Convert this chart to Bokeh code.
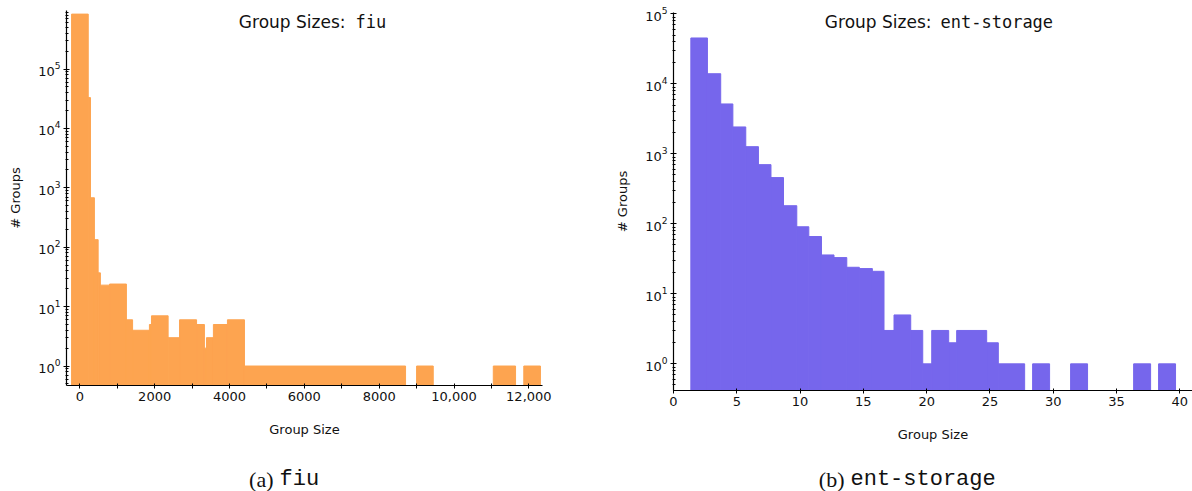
from bokeh.plotting import figure
from bokeh.models import Range1d, FixedTicker, LogTicker, Label
from bokeh.layouts import row, column
from bokeh.embed import file_html
from bokeh.resources import INLINE

# ---- data: fiu (left) ----
fiu_left = [-220, 225, 285, 390, 490, 550, 795, 1245, 1410, 1860, 1915, 2360,
            2665, 3120, 3330, 3385, 3570, 3945, 4400, 9000, 11050, 11865]
fiu_right = [225, 285, 390, 490, 550, 795, 1245, 1410, 1860, 1915, 2360, 2665,
             3120, 3330, 3385, 3570, 3945, 4400, 8705, 9445, 11645, 12310]
fiu_count = [840000, 33000, 680, 134, 37, 23, 24, 6, 4, 5, 7, 3,
             6, 5, 2, 3, 5, 6, 1, 1, 1, 1]
fiu_xticks = [0, 2000, 4000, 6000, 8000, 10000, 12000]
fiu_xminor = [1000, 3000, 5000, 7000, 9000, 11000]
fiu_xlabels = ["0", "2000", "4000", "6000", "8000", "10,000", "12,000"]

# ---- data: ent-storage (right) ----
ent_left = [1.37, 2.68, 3.73, 4.69, 5.71, 6.71, 7.70, 8.69, 9.74, 10.69, 11.69,
            12.68, 13.69, 14.68, 15.71, 16.63, 17.42, 18.74, 19.69, 20.40, 21.74,
            22.37, 24.74, 25.66, 28.37, 31.37, 36.35, 38.32]
ent_right = [2.68, 3.73, 4.69, 5.71, 6.71, 7.70, 8.69, 9.74, 10.69, 11.69, 12.68,
             13.69, 14.68, 15.71, 16.63, 17.42, 18.74, 19.69, 20.40, 21.74, 22.37,
             24.74, 25.66, 27.74, 29.71, 32.71, 37.69, 39.66]
ent_count = [45400, 14000, 5180, 2430, 1270, 703, 459, 182, 91, 66, 36,
             33, 24, 23, 21, 3, 5, 3, 1, 3, 2,
             3, 2, 1, 1, 1, 1, 1]
ent_xticks = [0, 5, 10, 15, 20, 25, 30, 35, 40]

FONT = "DejaVu Sans"
MONO = "DejaVu Sans Mono"
ORANGE = "#FDA450"
PURPLE = "#7666EC"


def style(p):
    p.grid.visible = False
    p.outline_line_color = None
    p.background_fill_color = "white"
    p.border_fill_color = "white"
    for ax in (p.xaxis[0], p.yaxis[0]):
        ax.axis_line_color = "black"
        ax.axis_line_width = 1.2
        ax.major_tick_line_color = "black"
        ax.minor_tick_line_color = "black"
        ax.major_label_text_font = FONT
        ax.major_label_text_font_size = "13px"
        ax.major_label_text_color = "#111111"
        ax.axis_label_text_font = FONT
        ax.axis_label_text_font_size = "13px"
        ax.axis_label_text_font_style = "normal"
        ax.axis_label_text_color = "#111111"
        ax.major_label_standoff = 3
    ax = p.xaxis[0]
    ax.major_tick_in = 2
    ax.major_tick_out = 3
    ax.minor_tick_in = 2
    ax.minor_tick_out = 3
    ax.axis_label = "Group Size"
    ax.axis_label_standoff = 18
    ay = p.yaxis[0]
    ay.major_tick_in = 3
    ay.major_tick_out = 3
    ay.minor_tick_in = 2
    ay.minor_tick_out = 1
    ay.axis_label = "# Groups"
    ay.axis_label_standoff = 12
    ay.ticker = LogTicker(num_minor_ticks=10)


def add_text(p, x, y, text, font, size, align):
    p.add_layout(Label(x=x, y=y, x_units="screen", y_units="screen", text=text,
                       text_font=font, text_font_size=size, text_align=align,
                       text_baseline="middle", text_color="#111111"))


def caption_fig():
    c = figure(width=596, height=40, title=None, x_range=Range1d(0, 596),
               y_range=Range1d(0, 40), x_axis_location=None, y_axis_location=None,
               output_backend="svg", toolbar_location=None, min_border=0)
    c.grid.visible = False
    c.outline_line_color = None
    return c


TOP_H = 451

# ---- left figure ----
p1 = figure(width=596, height=TOP_H, title=None,
            x_range=Range1d(-356, 12365), y_range=Range1d(0.47, 966000),
            y_axis_type="log", output_backend="svg", toolbar_location=None,
            min_border_left=66, min_border_right=54, min_border_top=10,
            min_border_bottom=TOP_H - 385)
p1.quad(left=fiu_left, right=fiu_right, top=fiu_count,
        bottom=[0.01] * len(fiu_count), fill_color=ORANGE,
        line_color=ORANGE, line_width=1)
style(p1)
p1.xaxis[0].ticker = FixedTicker(ticks=fiu_xticks, minor_ticks=fiu_xminor)
p1.xaxis[0].major_label_overrides = {t: l for t, l in zip(fiu_xticks, fiu_xlabels)}
add_text(p1, 279, 364, "Group Sizes:", FONT, "17px", "right")
add_text(p1, 289, 364, "fiu", MONO, "17px", "left")

# caption frame is aligned with the plot frame above it (left edge at 66)
c1 = caption_fig()
add_text(c1, 207, 12, "(a)", "Liberation Serif", "22px", "right")
add_text(c1, 213, 12, "fiu", "Liberation Mono", "22px", "left")

# ---- right figure ----
p2 = figure(width=596, height=TOP_H, title=None,
            x_range=Range1d(0, 41), y_range=Range1d(0.416, 105000),
            y_axis_type="log", output_backend="svg", toolbar_location=None,
            min_border_left=77, min_border_right=0, min_border_top=12,
            min_border_bottom=TOP_H - 390)
p2.quad(left=ent_left, right=ent_right, top=ent_count,
        bottom=[0.01] * len(ent_count), fill_color=PURPLE,
        line_color=PURPLE, line_width=1)
style(p2)
p2.xaxis[0].ticker = FixedTicker(ticks=ent_xticks, minor_ticks=[])
add_text(p2, 258, 369, "Group Sizes:", FONT, "17px", "right")
add_text(p2, 267, 369, "ent-storage", MONO, "17px", "left")

# caption frame is aligned with the plot frame above it (left edge at 77)
c2 = caption_fig()
add_text(c2, 171, 12, "(b)", "Liberation Serif", "22px", "right")
add_text(c2, 177, 12, "ent-storage", "Liberation Mono", "22px", "left")

layout = row(column(p1, c1), column(p2, c2))
open("out.html", "w").write(file_html(layout, INLINE))
